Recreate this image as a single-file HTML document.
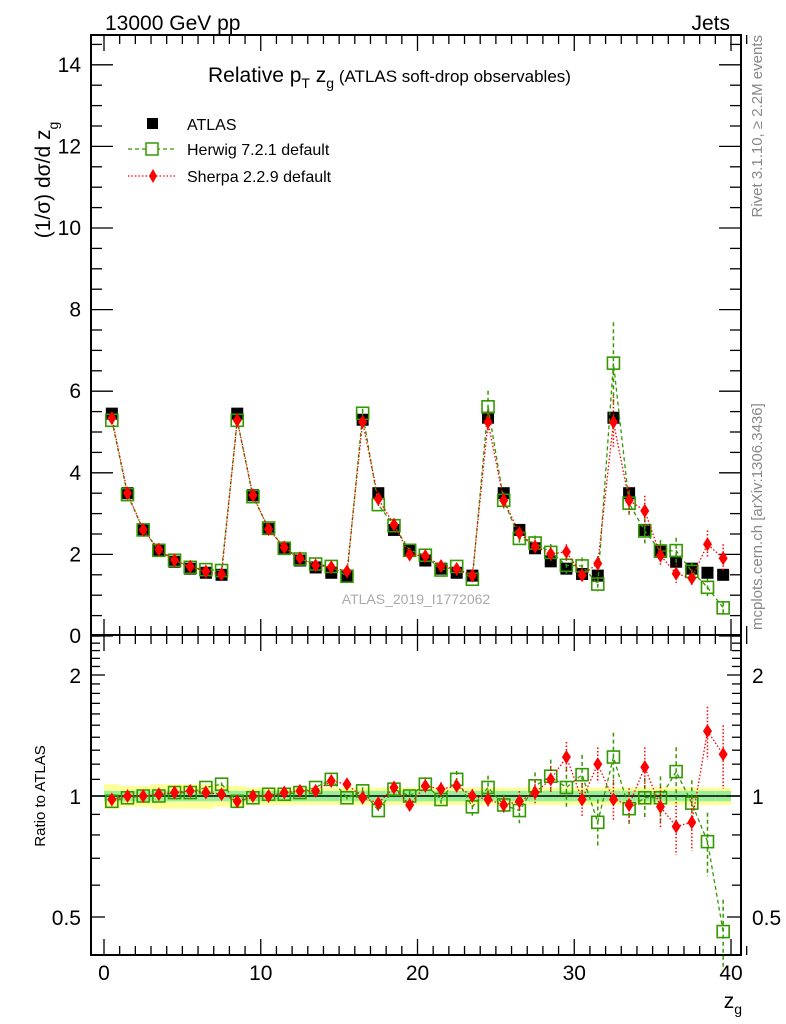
<!DOCTYPE html>
<html><head><meta charset="utf-8"><style>
body{margin:0;background:#fff;font-family:"Liberation Sans",sans-serif}
svg{display:block}
text{font-family:"Liberation Sans",sans-serif}
</style></head><body>
<svg id="c" width="786" height="1024" viewBox="0 0 786 1024">
<text x="105" y="30" font-size="21">13000 GeV pp</text>
<text x="730" y="30" font-size="21" text-anchor="end">Jets</text>
<text transform="translate(50,180) rotate(-90)" font-size="21" text-anchor="middle">(1/σ) dσ/d z<tspan font-size="14" dy="8">g</tspan></text>
<text transform="translate(45,796) rotate(-90)" font-size="15" text-anchor="middle">Ratio to ATLAS</text>
<text x="742" y="1008" font-size="21" text-anchor="end">z<tspan font-size="14" dy="6">g</tspan></text>
<text transform="translate(762,35) rotate(-90)" font-size="15" fill="#888" text-anchor="end">Rivet 3.1.10, ≥ 2.2M events</text>
<text transform="translate(762,630) rotate(-90)" font-size="15" fill="#888">mcplots.cern.ch [arXiv:1306.3436]</text>
<text x="416" y="604" font-size="14" fill="#aaa" text-anchor="middle">ATLAS_2019_I1772062</text>
<text x="208" y="82" font-size="21">Relative p<tspan font-size="14" dy="6">T</tspan><tspan dy="-6"> z</tspan><tspan font-size="14" dy="6">g</tspan><tspan dy="-6" font-size="17"> (ATLAS soft-drop observables)</tspan></text>
<g>
<rect x="147" y="118" width="11" height="11" fill="#000"/>
<text x="187" y="130" font-size="16">ATLAS</text>
<line x1="128" y1="149" x2="175" y2="149" stroke="#339900" stroke-dasharray="4,3" stroke-width="1.3"/>
<rect x="146" y="143" width="12" height="12" fill="#fff" stroke="#339900" stroke-width="1.5"/>
<text x="187" y="155" font-size="16">Herwig 7.2.1 default</text>
<line x1="128" y1="176" x2="175" y2="176" stroke="#ff0000" stroke-dasharray="1.5,2" stroke-width="1.3"/>
<path d="M153,169 L157,176 L153,183 L149,176Z" fill="#ff0000"/>
<text x="187" y="182" font-size="16">Sherpa 2.2.9 default</text>
</g>
<g id="plot"></g>
</svg>
<script>
const binCenters=[0.5,1.5,2.5,3.5,4.5,5.5,6.5,7.5,8.5,9.5,10.5,11.5,12.5,13.5,14.5,15.5,16.5,17.5,18.5,19.5,20.5,21.5,22.5,23.5,24.5,25.5,26.5,27.5,28.5,29.5,30.5,31.5,32.5,33.5,34.5,35.5,36.5,37.5,38.5,39.5];
const atlasVals=[5.45,3.5,2.6,2.1,1.82,1.65,1.55,1.5,5.45,3.45,2.62,2.13,1.85,1.68,1.55,1.48,5.3,3.5,2.6,2.1,1.85,1.65,1.55,1.48,5.35,3.5,2.6,2.15,1.83,1.65,1.52,1.48,5.35,3.5,2.6,2.1,1.82,1.65,1.55,1.5];
const herwigRatio=[0.97,0.99,1.0,1.0,1.02,1.02,1.05,1.07,0.97,0.99,1.01,1.01,1.02,1.05,1.1,0.99,1.03,0.92,1.04,1.0,1.07,0.98,1.1,0.94,1.05,0.95,0.92,1.06,1.12,1.05,1.13,0.86,1.25,0.93,0.99,0.99,1.15,0.96,0.77,0.46];
const herwigErr=[0.01,0.01,0.01,0.01,0.01,0.01,0.01,0.01,0.01,0.01,0.01,0.01,0.01,0.01,0.02,0.01,0.02,0.02,0.03,0.03,0.04,0.04,0.05,0.05,0.07,0.06,0.07,0.08,0.1,0.12,0.12,0.14,0.15,0.1,0.12,0.13,0.15,0.14,0.18,0.2];
const sherpaRatio=[0.98,1.0,1.0,1.01,1.02,1.03,1.02,1.01,0.97,1.0,1.0,1.02,1.03,1.03,1.09,1.07,0.99,0.96,1.05,0.95,1.06,1.04,1.06,1.0,0.98,0.95,0.97,1.02,1.1,1.25,0.98,1.2,0.98,0.95,1.18,0.94,0.84,0.86,1.45,1.27];
const sherpaErr=[0.01,0.01,0.01,0.01,0.01,0.01,0.01,0.01,0.01,0.01,0.01,0.01,0.01,0.01,0.02,0.02,0.02,0.02,0.03,0.03,0.03,0.04,0.04,0.04,0.05,0.05,0.06,0.07,0.08,0.09,0.1,0.1,0.12,0.1,0.12,0.12,0.15,0.15,0.15,0.18];
const bandYellow=[0.07,0.06,0.06,0.07,0.07,0.07,0.07,0.06,0.06,0.05,0.05,0.05,0.05,0.05,0.05,0.05,0.05,0.05,0.05,0.05,0.05,0.05,0.05,0.05,0.05,0.05,0.05,0.05,0.05,0.05,0.05,0.05,0.05,0.05,0.05,0.05,0.05,0.05,0.05,0.05];
const bandGreen=[0.03,0.03,0.03,0.03,0.03,0.03,0.03,0.03,0.03,0.03,0.03,0.03,0.03,0.03,0.03,0.03,0.03,0.03,0.03,0.03,0.03,0.03,0.03,0.03,0.03,0.03,0.03,0.03,0.03,0.03,0.03,0.03,0.03,0.03,0.03,0.03,0.03,0.03,0.03,0.03];
const xTicks=[0,10,20,30,40];
const yTicks=[0,2,4,6,8,10,12,14];
const rTicks=[0.5,1,2];

const NS="http://www.w3.org/2000/svg";
const g=document.getElementById('plot');
const L=91,R=741,T=35,MB=635,RB=955;
const X=v=>104+v*15.675;
const Y=v=>636-v*40.8;
const RY=r=>796-Math.log10(r)*402;
function el(tag,attrs,parent){const e=document.createElementNS(NS,tag);for(const k in attrs)e.setAttribute(k,attrs[k]);(parent||g).appendChild(e);return e;}

// bands
for(let i=0;i<binCenters.length;i++){
  const x0=X(binCenters[i]-0.5),x1=X(binCenters[i]+0.5);
  const b=el('rect',{x:x0,y:RY(1+bandYellow[i]),width:x1-x0,height:RY(1-bandYellow[i])-RY(1+bandYellow[i]),fill:'#ffff99'});
  
  
  const c=el('rect',{x:x0,y:RY(1+bandGreen[i]),width:x1-x0,height:RY(1-bandGreen[i])-RY(1+bandGreen[i]),fill:'#99ee99'});
  
  
}
el('line',{x1:L,x2:R,y1:RY(1),y2:RY(1),stroke:'#000','stroke-width':1.5});

// frames
const f1=el('rect',{x:L,y:T,width:R-L,height:MB-T,fill:'none',stroke:'#000','stroke-width':2});


const f2=el('rect',{x:L,y:MB,width:R-L,height:RB-MB,fill:'none',stroke:'#000','stroke-width':2});



// x ticks
for(let v=0;v<=41;v++){
  const big=v%10==0,len=big?16:9;
  [[T,1],[MB,-1],[MB,1],[RB,-1]].forEach(([y,d])=>el('line',{x1:X(v),x2:X(v),y1:y,y2:y+d*len,stroke:'#000','stroke-width':1.3}));
}
xTicks.forEach(v=>{const t=el('text',{x:X(v),y:980,'font-size':21,'text-anchor':'middle'});t.textContent=v;

});
// y ticks main
for(let v=0;v<=14.6;v+=0.5){
  const big=Math.abs(v-Math.round(v/2)*2)<1e-6,len=big?22:11;
  el('line',{x1:L,x2:L+len,y1:Y(v),y2:Y(v),stroke:'#000','stroke-width':1.3});
  el('line',{x1:R,x2:R-len,y1:Y(v),y2:Y(v),stroke:'#000','stroke-width':1.3});
}
yTicks.forEach(v=>{const t=el('text',{x:81,y:Y(v)+7,'font-size':21,'text-anchor':'end'});t.textContent=v;

});
// ratio ticks
[0.4,0.5,0.6,0.7,0.8,0.9,1,1.1,1.2,1.3,1.4,1.5,1.6,1.7,1.8,1.9,2,2.1,2.2,2.3,2.4,2.5].forEach(r=>{
  const big=rTicks.includes(r),len=big?14:9;const y=RY(r);if(y<MB||y>RB)return;
  el('line',{x1:L,x2:L+len,y1:y,y2:y,stroke:'#000','stroke-width':1.3});
  el('line',{x1:R,x2:R-len,y1:y,y2:y,stroke:'#000','stroke-width':1.3});
});
rTicks.forEach(r=>{
  const t=el('text',{x:81,y:RY(r)+8,'font-size':21,'text-anchor':'end'});t.textContent=r;
  
  
  const t2=el('text',{x:752,y:RY(r)+8,'font-size':21});t2.textContent=r;
  
  
});

// series
function drawSeries(ratio,err,color,dash,shape,name){
  const mainPts=binCenters.map((c,i)=>[X(c),Y(atlasVals[i]*ratio[i])]);
  const rPts=binCenters.map((c,i)=>[X(c),RY(ratio[i])]);
  [mainPts,rPts].forEach((pts,k)=>{
    const p=el('polyline',{points:pts.map(p=>p.join(',')).join(' '),fill:'none',stroke:color,'stroke-width':1.3,'stroke-dasharray':dash});
    
    
  });
  binCenters.forEach((c,i)=>{
    const x=X(c);
    const v=atlasVals[i]*ratio[i];
    const y1=Y(v*(1+err[i])),y2=Y(v*(1-err[i]));
    el('line',{x1:x,x2:x,y1:y1,y2:y2,stroke:color,'stroke-width':1.5,'stroke-dasharray':dash});
    const ry1=RY(ratio[i]*(1+err[i])),ry2=RY(Math.max(0.35,ratio[i]*(1-err[i])));
    el('line',{x1:x,x2:x,y1:ry1,y2:ry2,stroke:color,'stroke-width':1.5,'stroke-dasharray':dash});
    [[x,Y(v)],[x,RY(ratio[i])]].forEach(([px,py],k)=>{
      let m;
      if(shape==='sq') m=el('rect',{x:px-6,y:py-6,width:12,height:12,fill:'none',stroke:color,'stroke-width':1.6});
      else m=el('path',{d:`M${px},${py-7} L${px+4.5},${py} L${px},${py+7} L${px-4.5},${py}Z`,fill:color});
      
      
    });
  });
}
// ATLAS points
binCenters.forEach((c,i)=>{
  const m=el('rect',{x:X(c)-6,y:Y(atlasVals[i])-6,width:12,height:12,fill:'#000'});
  
  
});
drawSeries(herwigRatio,herwigErr,'#339900','4,3','sq','herwig');
drawSeries(sherpaRatio,sherpaErr,'#ff0000','1.5,2','dia','sherpa');
</script>
</body></html>
